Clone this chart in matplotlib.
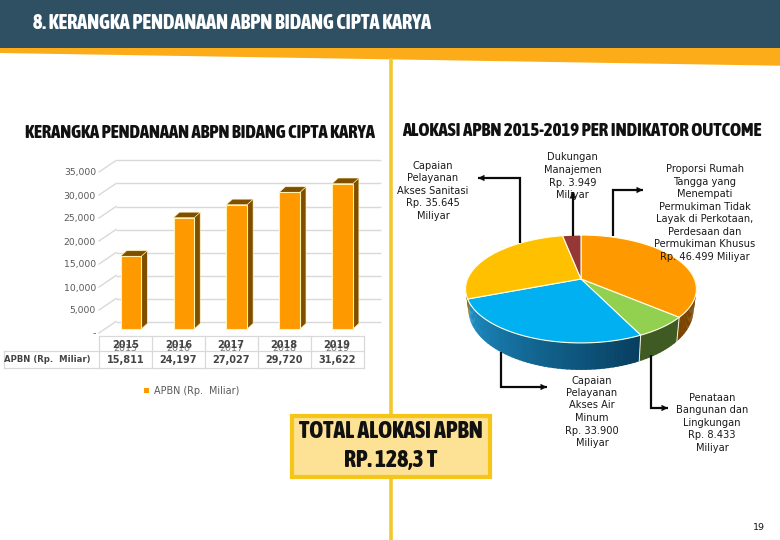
import numpy as np
import matplotlib
matplotlib.use("Agg")
import matplotlib.pyplot as plt
from matplotlib.patches import Polygon, Rectangle
from matplotlib.transforms import Affine2D
from matplotlib.colors import to_rgb
from matplotlib import font_manager as fm

years = ["2015", "2016", "2017", "2018", "2019"]
apbn = [15811, 24197, 27027, 29720, 31622]
value_labels = ["15,811", "24,197", "27,027", "29,720", "31,622"]
series_name = "APBN (Rp.  Miliar)"
yticks = [0, 5000, 10000, 15000, 20000, 25000, 30000, 35000]
ytick_labels = ["-", "5,000", "10,000", "15,000", "20,000", "25,000", "30,000", "35,000"]

pie_names = ["Proporsi", "Penataan", "Air Minum", "Sanitasi", "Manajemen"]
pie_values = [46499, 8433, 33900, 35645, 3949]
pie_colors = ["#FF9900", "#92D050", "#00B0F0", "#FFC000", "#953735"]
pie_side = ["#7A4500", "#3F5A22", "#0A6FA0", "#8A6A00", "#5A1F1F"]

_have = {f.name for f in fm.fontManager.ttflist}
_cond = "Asap Condensed" in _have
NARROW = ["Asap Condensed", "Liberation Sans"] if _cond else ["Liberation Sans"]
HS = 1.0 if _cond else 0.8
HW = 800 if _cond else "bold"
GREY = "#595959"

fig = plt.figure(figsize=(7.8, 5.4), dpi=100, facecolor="white")
bg = fig.add_axes([0, 0, 1, 1])
bg.set_xlim(0, 780)
bg.set_ylim(540, 0)
bg.axis("off")

# header
bg.add_patch(Polygon([(0, 48), (780, 48), (780, 65.7), (0, 53)], fc="#FBAC18", ec="none", zorder=1))
bg.add_patch(Rectangle((0, 0), 780, 48, fc="#2F5063", ec="none", zorder=1))
bg.plot([390.7, 390.7], [58, 540], color="#F2C82E", lw=2.6, zorder=1, solid_capstyle="butt")
bg.text(33, 23, "8. KERANGKA PENDANAAN ABPN BIDANG CIPTA KARYA", color="white", family=NARROW,
        weight=HW, fontsize=14.55 * HS, va="center", ha="left")
bg.text(25, 132.5, "KERANGKA PENDANAAN ABPN BIDANG CIPTA KARYA", color="#111111", family=NARROW,
        weight=HW, fontsize=13.45 * HS, va="center", ha="left")
bg.text(402, 130.5, "ALOKASI APBN 2015-2019 PER INDIKATOR OUTCOME", color="#111111", family=NARROW,
        weight=HW, fontsize=13.5 * HS, va="center", ha="left")

# bar chart
ax = fig.add_axes([99 / 780, 1 - 333 / 540, 264.5 / 780, 161 / 540])
ax.patch.set_alpha(0)
ax.set_xlim(-0.5, 4.5)
ax.set_ylim(0, 35000)
for s in ax.spines.values():
    s.set_visible(False)
ax.set_xticks([])
ax.set_yticks(yticks, ytick_labels, fontsize=6.7, color=GREY)
ax.tick_params(axis="y", length=0, pad=2.2)


def shift(px, py):
    return ax.transData + Affine2D().translate(px, py)


ax.hlines(yticks, -0.5, 4.5, colors="#D9D9D9", lw=1, transform=shift(17, 11.5), clip_on=False, zorder=1)
dx_grid = 17 / 52.9
dy_grid = 11.5 * 5000 / 23
for t in yticks:
    ax.plot([-0.5, -0.5 + dx_grid], [t, t + dy_grid], color="#D9D9D9", lw=1, clip_on=False, zorder=1)

bar_w = 0.39
dep_x = 6 / 52.9
dep_y = 5.5 * 5000 / 23
bars = ax.bar(range(5), apbn, width=bar_w, color="#FF9900", edgecolor="#FFF2B0", linewidth=0.8,
              transform=shift(5.5, 4), clip_on=False, zorder=3, label=series_name)
for i, v in enumerate(apbn):
    l, r = i - bar_w / 2, i + bar_w / 2
    ax.add_patch(Polygon([(r, 0), (r + dep_x, dep_y), (r + dep_x, v + dep_y), (r, v)], fc="#7F4F00",
                         ec="#FFF2B0", lw=0.4, transform=shift(5.5, 4), clip_on=False, zorder=2))
    ax.add_patch(Polygon([(l, v), (l + dep_x, v + dep_y), (r + dep_x, v + dep_y), (r, v)], fc="#7F4F00",
                         ec="#FFF2B0", lw=0.4, transform=shift(5.5, 4), clip_on=False, zorder=2))

# data table under the bars
TC = "#D9D9D9"
col = 52.9
for y, x0 in [(335.7, 99), (350.7, 4), (368.3, 4)]:
    bg.plot([x0, 363.5], [y, y], color=TC, lw=0.9, zorder=1)
for k in range(6):
    bg.plot([99 + k * col] * 2, [335.7, 368.3], color=TC, lw=0.9, zorder=1)
bg.plot([4, 4], [350.7, 368.3], color=TC, lw=0.9, zorder=1)
for k, (yr, lab) in enumerate(zip(years, value_labels)):
    xc = 99 + (k + 0.5) * col
    bg.text(xc, 348.5, yr, fontsize=6.8, color="#777777", ha="center", va="center")
    bg.text(xc, 344.5, yr, fontsize=7, color="#444444", weight="bold", ha="center", va="center")
    bg.text(xc, 360, lab, fontsize=7, color="#444444", weight="bold", ha="center", va="center")
bg.text(47.5, 360, "APBN (Rp.  Miliar)", fontsize=6.1, color="#444444", weight="bold", ha="center", va="center")

leg = fig.legend(handles=[bars], labels=[series_name], loc="center", bbox_to_anchor=(191.5 / 780, 1 - 391 / 540),
                 frameon=False, fontsize=6.9, labelcolor=GREY, handlelength=0.55, handleheight=0.55, handletextpad=0.45)
for h in leg.legend_handles:
    h.set_edgecolor("none")

# perspective pie
cx, cy, a, b, k = 581.0, 279.0, 113.4, 52.1, 0.185


def project(theta):
    u, v = np.sin(theta), np.cos(theta)
    w = 1 + k * v
    return cx + a * u / w, cy - b * v / w


def project_low(theta):
    x, y = project(theta)
    return cx + (x - cx) * 0.976, y + 18.7 - 8.3 * np.cos(theta)


vals = np.array(pie_values, dtype=float)
edges = np.concatenate([[0], np.cumsum(vals)]) / vals.sum() * 2 * np.pi
mix_l = np.array(to_rgb("#1E90C8"))
mix_r = np.array(to_rgb("#083F60"))
overlap = np.radians(0.6)
for i in range(len(vals)):
    t0, t1 = edges[i], edges[i + 1]
    lo, hi = max(t0, np.radians(80)), min(t1, np.radians(272))
    if hi > lo:
        ts = np.linspace(lo, hi, int(np.degrees(hi - lo) / 2) + 2)
        for p, q in zip(ts[:-1], ts[1:]):
            c = pie_side[i]
            if pie_names[i] == "Air Minum":
                f = (p - t0) / (t1 - t0)
                c = mix_r + (mix_l - mix_r) * f
            qq = min(q + overlap, hi)
            arc = np.linspace(p, qq, 4)
            top = [project(t) for t in arc]
            low = [project_low(t) for t in arc[::-1]]
            bg.add_patch(Polygon(top + low, fc=c, ec="none", zorder=2))
for t in [edges[1], edges[2]]:
    bg.plot(*zip(project(t), project_low(t)), color="#F4F4E0", lw=0.7, zorder=2.5)
for i in range(len(vals)):
    ts = np.linspace(edges[i], edges[i + 1], 120)
    xs, ys = project(ts)
    pts = [(cx, cy)] + list(zip(xs, ys))
    bg.add_patch(Polygon(pts, fc=pie_colors[i], ec="#FFFFE8", lw=0.8, zorder=3, joinstyle="round"))


# leader arrows
def leader(points):
    xs, ys = zip(*points)
    bg.plot(xs, ys, color="#0A0A0A", lw=1.6, zorder=4, solid_capstyle="butt", solid_joinstyle="miter")
    x1, y1 = points[-2]
    x2, y2 = points[-1]
    d = np.array([x2 - x1, y2 - y1], dtype=float)
    d /= np.hypot(*d)
    n = np.array([-d[1], d[0]])
    tip = np.array([x2, y2])
    base = tip - d * 6.5
    bg.add_patch(Polygon([tip, base + n * 3.2, base - n * 3.2], fc="#0A0A0A", ec="none", zorder=4))


leader([(520, 243), (520, 178), (478, 178)])
leader([(572.7, 236), (572.7, 192)])
leader([(613, 236), (613, 190), (643, 190)])
leader([(501, 352), (501, 387), (547, 387)])
leader([(650.7, 355), (650.7, 408), (668, 408)])


# labels
def label(xc, lines, ys):
    for s, y in zip(lines, ys):
        bg.text(xc, y, s, fontsize=7.1, color="#1A1A1A", ha="center", va="center", zorder=5)


label(433, ["Capaian", "Pelayanan", "Akses Sanitasi", "Rp. 35.645", "Miliyar"], [165.7, 178.3, 190.7, 203.3, 215.7])
label(572.5, ["Dukungan", "Manajemen", "Rp. 3.949", "Miliyar"], [157, 170, 183, 195])
label(705, ["Proporsi Rumah", "Tangga yang", "Menempati", "Permukiman Tidak", "Layak di Perkotaan,",
            "Perdesaan dan", "Permukiman Khusus", "Rp. 46.499 Miliyar"],
      [169, 181.7, 194, 206.7, 219.3, 231.7, 244.3, 256.7])
label(592, ["Capaian", "Pelayanan", "Akses Air", "Minum", "Rp. 33.900", "Miliyar"],
      [380.7, 393, 405.5, 418, 430.5, 443.5])
label(712, ["Penataan", "Bangunan dan", "Lingkungan", "Rp. 8.433", "Miliyar"], [397.7, 410, 422.7, 435, 447.7])
bg.text(759, 528, "19", fontsize=6.8, color="#111111", ha="center", va="center")

# total box
bg.add_patch(Rectangle((292, 416), 198, 61, fc="#FDE296", ec="#F5C518", lw=3, zorder=3))
bg.text(391, 432, "TOTAL ALOKASI APBN", family=NARROW, weight=HW, fontsize=17 * HS, color="#111111",
        ha="center", va="center", zorder=5)
bg.text(391, 460, "RP. 128,3 T", family=NARROW, weight=HW, fontsize=17 * HS, color="#111111",
        ha="center", va="center", zorder=5)

fig.savefig("out.png", dpi=100, facecolor="white")
